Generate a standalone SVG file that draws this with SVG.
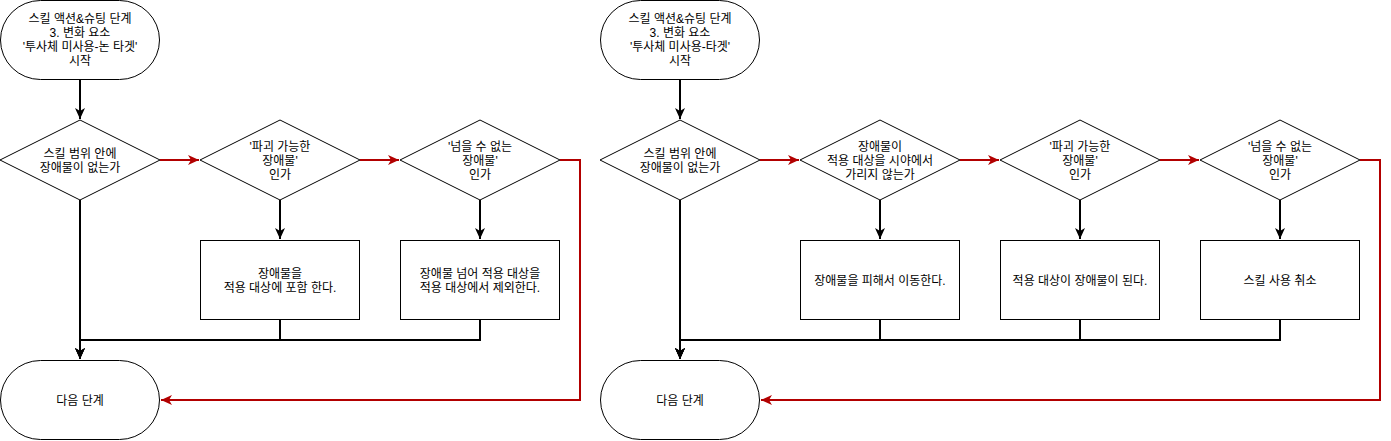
<svg xmlns="http://www.w3.org/2000/svg" width="1391" height="441" viewBox="0 0 1391 441">
<style>
.n{fill:#fff;stroke:#000;stroke-width:1}
.t{font-family:"Liberation Sans","Noto Sans CJK KR",sans-serif;font-size:12px;fill:#000;text-anchor:middle}
.e{fill:none;stroke:#000;stroke-width:2}
.r{fill:none;stroke:#B20000;stroke-width:2}
</style>
<defs>
<marker id="ab" markerUnits="userSpaceOnUse" markerWidth="12" markerHeight="10" refX="11" refY="5" orient="auto" viewBox="0 0 12 10">
<path d="M0,0 L11,5 L0,10 L3,5 Z" fill="#000"/>
</marker>
<marker id="ar" markerUnits="userSpaceOnUse" markerWidth="12" markerHeight="10" refX="11" refY="5" orient="auto" viewBox="0 0 12 10">
<path d="M0,0 L11,5 L0,10 L3,5 Z" fill="#B20000"/>
</marker>
</defs>
<rect width="1391" height="441" fill="#fff"/>
<g id="connectors">
<path class="e" d="M80,80 V119" marker-end="url(#ab)"/>
<path class="r" d="M160,160 H199" marker-end="url(#ar)"/>
<path class="r" d="M360,160 H399" marker-end="url(#ar)"/>
<path class="r" d="M560,160 H580 V400 H161" marker-end="url(#ar)"/>
<path class="e" d="M80,200 V359" marker-end="url(#ab)"/>
<path class="e" d="M280,200 V239" marker-end="url(#ab)"/>
<path class="e" d="M480,200 V239" marker-end="url(#ab)"/>
<path class="e" d="M280,320 V340 H80 V359" marker-end="url(#ab)"/>
<path class="e" d="M480,320 V340 H80 V359" marker-end="url(#ab)"/>

<path class="e" d="M680,80 V119" marker-end="url(#ab)"/>
<path class="r" d="M760,160 H799" marker-end="url(#ar)"/>
<path class="r" d="M960,160 H999" marker-end="url(#ar)"/>
<path class="r" d="M1160,160 H1199" marker-end="url(#ar)"/>
<path class="r" d="M1360,160 H1380 V400 H761" marker-end="url(#ar)"/>
<path class="e" d="M680,200 V359" marker-end="url(#ab)"/>
<path class="e" d="M880,200 V239" marker-end="url(#ab)"/>
<path class="e" d="M1080,200 V239" marker-end="url(#ab)"/>
<path class="e" d="M1280,200 V239" marker-end="url(#ab)"/>
<path class="e" d="M880,320 V340 H680 V359" marker-end="url(#ab)"/>
<path class="e" d="M1080,320 V340 H680 V359" marker-end="url(#ab)"/>
<path class="e" d="M1280,320 V340 H680 V359" marker-end="url(#ab)"/>
</g>

<g id="L_start">
<rect class="n" x="0.5" y="0.5" width="159" height="79" rx="40" ry="39.5"/>
<text class="t" x="80" y="23">스킬 액션&amp;슈팅 단계</text>
<text class="t" x="80" y="37">3. 변화 요소</text>
<text class="t" x="80" y="51">'투사체 미사용-논 타겟'</text>
<text class="t" x="80" y="65">시작</text>
</g>
<g id="L_d1">
<polygon class="n" points="80,120 160,160 80,200 0,160"/>
<text class="t" x="80" y="157.5">스킬 범위 안에</text>
<text class="t" x="80" y="171.5">장애물이 없는가</text>
</g>
<g id="L_d2">
<polygon class="n" points="280,120 360,160 280,200 200,160"/>
<text class="t" x="280" y="150.5">'파괴 가능한</text>
<text class="t" x="280" y="164.5">장애물'</text>
<text class="t" x="280" y="178.5">인가</text>
</g>
<g id="L_d3">
<polygon class="n" points="480,120 560,160 480,200 400,160"/>
<text class="t" x="480" y="150.5">'넘을 수 없는</text>
<text class="t" x="480" y="164.5">장애물'</text>
<text class="t" x="480" y="178.5">인가</text>
</g>
<g id="L_r1">
<rect class="n" x="200.5" y="240.5" width="159" height="79"/>
<text class="t" x="280" y="277.5">장애물을</text>
<text class="t" x="280" y="291.5">적용 대상에 포함 한다.</text>
</g>
<g id="L_r2">
<rect class="n" x="400.5" y="240.5" width="159" height="79"/>
<text class="t" x="480" y="277.5">장애물 넘어 적용 대상을</text>
<text class="t" x="480" y="291.5">적용 대상에서 제외한다.</text>
</g>
<g id="L_end">
<rect class="n" x="0.5" y="360.5" width="159" height="79" rx="40" ry="39.5"/>
<text class="t" x="80" y="404.5">다음 단계</text>
</g>

<g id="R_start">
<rect class="n" x="600.5" y="0.5" width="159" height="79" rx="40" ry="39.5"/>
<text class="t" x="680" y="23">스킬 액션&amp;슈팅 단계</text>
<text class="t" x="680" y="37">3. 변화 요소</text>
<text class="t" x="680" y="51">'투사체 미사용-타겟'</text>
<text class="t" x="680" y="65">시작</text>
</g>
<g id="R_d1">
<polygon class="n" points="680,120 760,160 680,200 600,160"/>
<text class="t" x="680" y="157.5">스킬 범위 안에</text>
<text class="t" x="680" y="171.5">장애물이 없는가</text>
</g>
<g id="R_d2">
<polygon class="n" points="880,120 960,160 880,200 800,160"/>
<text class="t" x="880" y="150.5">장애물이</text>
<text class="t" x="880" y="164.5">적용 대상을 시야에서</text>
<text class="t" x="880" y="178.5">가리지 않는가</text>
</g>
<g id="R_d3">
<polygon class="n" points="1080,120 1160,160 1080,200 1000,160"/>
<text class="t" x="1080" y="150.5">'파괴 가능한</text>
<text class="t" x="1080" y="164.5">장애물'</text>
<text class="t" x="1080" y="178.5">인가</text>
</g>
<g id="R_d4">
<polygon class="n" points="1280,120 1360,160 1280,200 1200,160"/>
<text class="t" x="1280" y="150.5">'넘을 수 없는</text>
<text class="t" x="1280" y="164.5">장애물'</text>
<text class="t" x="1280" y="178.5">인가</text>
</g>
<g id="R_r1">
<rect class="n" x="800.5" y="240.5" width="159" height="79"/>
<text class="t" x="880" y="284.5">장애물을 피해서 이동한다.</text>
</g>
<g id="R_r2">
<rect class="n" x="1000.5" y="240.5" width="159" height="79"/>
<text class="t" x="1080" y="284.5">적용 대상이 장애물이 된다.</text>
</g>
<g id="R_r3">
<rect class="n" x="1200.5" y="240.5" width="159" height="79"/>
<text class="t" x="1280" y="284.5">스킬 사용 취소</text>
</g>
<g id="R_end">
<rect class="n" x="600.5" y="360.5" width="159" height="79" rx="40" ry="39.5"/>
<text class="t" x="680" y="404.5">다음 단계</text>
</g>
</svg>
